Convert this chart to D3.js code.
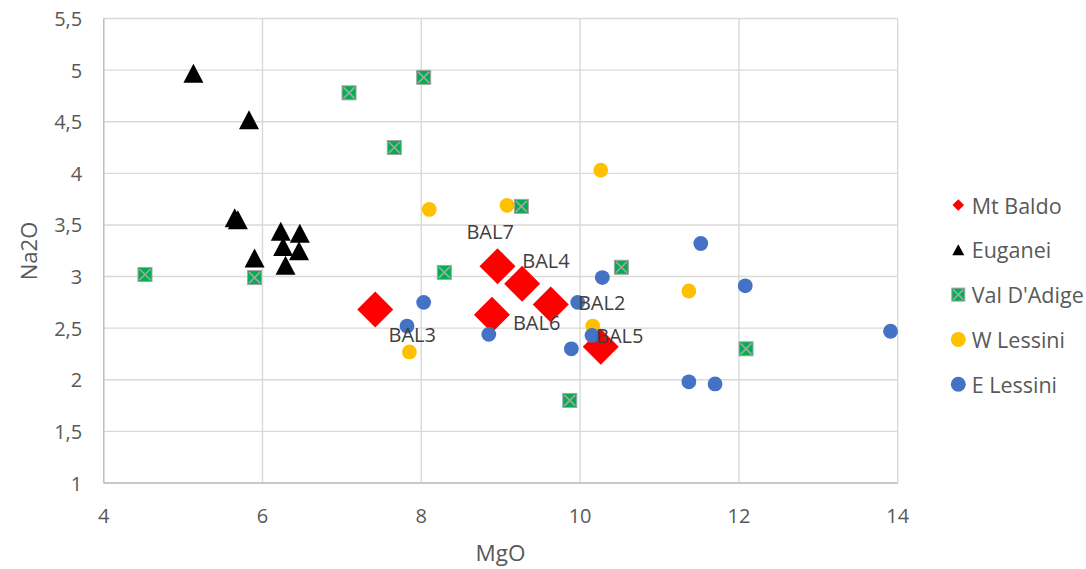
<!DOCTYPE html>
<html>
<head>
<meta charset="utf-8">
<script src="https://cdn.jsdelivr.net/npm/d3@7"></script>
<style>
  html, body { margin: 0; padding: 0; background: #fff; }
  svg { display: block; font-family: "Open Sans", "Liberation Sans", sans-serif; }
</style>
</head>
<body>
<svg id="chart" width="1086" height="569"></svg>
<script>
// ---------- DATA ----------
const seriesNames = ["Mt Baldo", "Euganei", "Val D'Adige", "W Lessini", "E Lessini"];

const mtBaldoMgO = [7.42, 8.96, 9.27, 9.63, 8.89, 10.26];
const mtBaldoNa2O = [2.68, 3.10, 2.93, 2.73, 2.63, 2.32];
const mtBaldoLabels = ["BAL3", "BAL7", "BAL4", "BAL2", "BAL6", "BAL5"];

const euganeiMgO = [5.13, 5.83, 5.65, 5.69, 6.23, 6.47, 6.26, 6.46, 5.90, 6.29];
const euganeiNa2O = [4.97, 4.52, 3.57, 3.55, 3.44, 3.42, 3.29, 3.25, 3.18, 3.11];

const valDAdigeMgO = [4.52, 5.90, 7.09, 8.03, 7.66, 9.26, 8.29, 10.52, 12.09, 9.87];
const valDAdigeNa2O = [3.02, 2.99, 4.78, 4.93, 4.25, 3.68, 3.04, 3.09, 2.30, 1.80];

const wLessiniMgO = [8.10, 9.08, 10.26, 11.37, 10.16, 7.85];
const wLessiniNa2O = [3.65, 3.69, 4.03, 2.86, 2.52, 2.27];

const eLessiniMgO = [8.03, 7.82, 8.85, 9.89, 9.97, 10.15, 10.28, 11.52, 12.08, 11.37, 11.70, 13.91];
const eLessiniNa2O = [2.75, 2.52, 2.44, 2.30, 2.75, 2.43, 2.99, 3.32, 2.91, 1.98, 1.96, 2.47];

const xTicks = [4, 6, 8, 10, 12, 14];
const xTickLabels = ["4", "6", "8", "10", "12", "14"];
const yTicks = [1, 1.5, 2, 2.5, 3, 3.5, 4, 4.5, 5, 5.5];
const yTickLabels = ["1", "1,5", "2", "2,5", "3", "3,5", "4", "4,5", "5", "5,5"];

const xTitle = "MgO";
const yTitle = "Na2O";

// ---------- STYLE / LAYOUT ----------
const plot = { left: 103.7, right: 897.7, top: 18.5, bottom: 483 };
const colors = {
  "Mt Baldo": "#ff0000",
  "Euganei": "#000000",
  "Val D'Adige": "#00b050",
  "W Lessini": "#ffc000",
  "E Lessini": "#4472c4"
};
// label offsets (px) relative to their point, same order as mtBaldoLabels
const labelOffsets = [[37, 24.7], [-7.4, -35], [23.9, -23.2], [50.9, -1.8], [44.7, 7.5], [19, -10.9]];

const svg = d3.select("#chart");
svg.append("rect").attr("width", 1086).attr("height", 569).attr("fill", "#fff");

const x = d3.scaleLinear().domain([4, 14]).range([plot.left, plot.right]);
const y = d3.scaleLinear().domain([1, 5.5]).range([plot.bottom, plot.top]);

// gridlines
const grid = svg.append("g");
grid.selectAll("line.h").data(yTicks).join("line")
  .attr("x1", plot.left).attr("x2", plot.right)
  .attr("y1", d => y(d)).attr("y2", d => y(d))
  .attr("stroke", "#d9d9d9").attr("stroke-width", 1.4);
grid.selectAll("line.v").data(xTicks).join("line")
  .attr("y1", plot.top).attr("y2", plot.bottom)
  .attr("x1", d => x(d)).attr("x2", d => x(d))
  .attr("stroke", "#d9d9d9").attr("stroke-width", 1.4);
// axis lines
svg.append("line").attr("x1", x(4)).attr("x2", x(4)).attr("y1", plot.top).attr("y2", plot.bottom)
  .attr("stroke", "#bfbfbf").attr("stroke-width", 1.4);
svg.append("line").attr("x1", plot.left).attr("x2", plot.right).attr("y1", y(1)).attr("y2", y(1))
  .attr("stroke", "#bfbfbf").attr("stroke-width", 1.4);

// tick labels
svg.append("g").selectAll("text").data(yTicks).join("text")
  .attr("x", plot.left - 21.5).attr("y", d => y(d))
  .attr("text-anchor", "end").attr("dominant-baseline", "central")
  .attr("font-size", 20).attr("fill", "#595959")
  .text((d, i) => yTickLabels[i]);
svg.append("g").selectAll("text").data(xTicks).join("text")
  .attr("x", d => x(d)).attr("y", plot.bottom + 32)
  .attr("text-anchor", "middle").attr("dominant-baseline", "central")
  .attr("font-size", 20).attr("fill", "#595959")
  .text((d, i) => xTickLabels[i]);

// axis titles
svg.append("text").attr("x", 500.5).attr("y", 552)
  .attr("text-anchor", "middle").attr("dominant-baseline", "central")
  .attr("font-size", 22.5).attr("fill", "#595959").text(xTitle);
svg.append("text").attr("transform", "translate(28,251) rotate(-90)")
  .attr("text-anchor", "middle").attr("dominant-baseline", "central")
  .attr("font-size", 22).attr("fill", "#595959").text(yTitle);

// marker drawers
function diamondPath(s) { // s = half diagonal
  return `M0,${-s}L${s},0L0,${s}L${-s},0Z`;
}
function trianglePath(w, h) {
  return `M0,${-h/2}L${w/2},${h/2}L${-w/2},${h/2}Z`;
}
function drawSquareX(g, cx, cy, s) {
  const h = s / 2;
  g.append("rect").attr("x", cx - h).attr("y", cy - h).attr("width", s).attr("height", s)
    .attr("fill", "#00b050").attr("stroke", "#a5a5a5").attr("stroke-width", 1);
  g.append("path").attr("d", `M${cx-h+1.5},${cy-h+1.5}L${cx+h-1.5},${cy+h-1.5}M${cx+h-1.5},${cy-h+1.5}L${cx-h+1.5},${cy+h-1.5}`)
    .attr("stroke", "#a5a5a5").attr("stroke-width", 1.6).attr("fill", "none");
}

const marks = svg.append("g");
// Mt Baldo
const mb = d3.zip(mtBaldoMgO, mtBaldoNa2O);
marks.append("g").selectAll("path").data(mb).join("path")
  .attr("d", diamondPath(18))
  .attr("transform", d => `translate(${x(d[0])},${y(d[1])})`)
  .attr("fill", colors["Mt Baldo"]);
// Euganei
const eu = d3.zip(euganeiMgO, euganeiNa2O);
marks.append("g").selectAll("path").data(eu).join("path")
  .attr("d", trianglePath(20, 19))
  .attr("transform", d => `translate(${x(d[0])},${y(d[1])})`)
  .attr("fill", colors["Euganei"]);
// Val D'Adige
const vaG = marks.append("g");
d3.zip(valDAdigeMgO, valDAdigeNa2O).forEach(d => drawSquareX(vaG, x(d[0]), y(d[1]), 14));
// W Lessini
marks.append("g").selectAll("circle").data(d3.zip(wLessiniMgO, wLessiniNa2O)).join("circle")
  .attr("cx", d => x(d[0])).attr("cy", d => y(d[1])).attr("r", 7.4)
  .attr("fill", colors["W Lessini"]);
// E Lessini
marks.append("g").selectAll("circle").data(d3.zip(eLessiniMgO, eLessiniNa2O)).join("circle")
  .attr("cx", d => x(d[0])).attr("cy", d => y(d[1])).attr("r", 7.4)
  .attr("fill", colors["E Lessini"]);

// data labels
svg.append("g").selectAll("text").data(mb).join("text")
  .attr("x", (d, i) => x(d[0]) + labelOffsets[i][0])
  .attr("y", (d, i) => y(d[1]) + labelOffsets[i][1])
  .attr("text-anchor", "middle").attr("dominant-baseline", "central")
  .attr("font-size", 20).attr("fill", "#404040")
  .text((d, i) => mtBaldoLabels[i]);

// legend
const legend = svg.append("g");
const legX = 958.3, legY0 = 205, legDy = 44.8;
seriesNames.forEach((name, i) => {
  const cy = legY0 + i * legDy;
  const g = legend.append("g");
  if (name === "Mt Baldo") {
    g.append("path").attr("d", diamondPath(5.8)).attr("transform", `translate(${legX},${cy})`).attr("fill", colors[name]);
  } else if (name === "Euganei") {
    g.append("path").attr("d", trianglePath(12, 11)).attr("transform", `translate(${legX},${cy})`).attr("fill", colors[name]);
  } else if (name === "Val D'Adige") {
    drawSquareX(g, legX, cy, 13);
  } else {
    g.append("circle").attr("cx", legX).attr("cy", cy).attr("r", 7.5).attr("fill", colors[name]);
  }
  g.append("text").attr("x", 971.7).attr("y", cy)
    .attr("dominant-baseline", "central").attr("font-size", 21.5).attr("fill", "#595959")
    .text(name);
});
</script>
</body>
</html>
